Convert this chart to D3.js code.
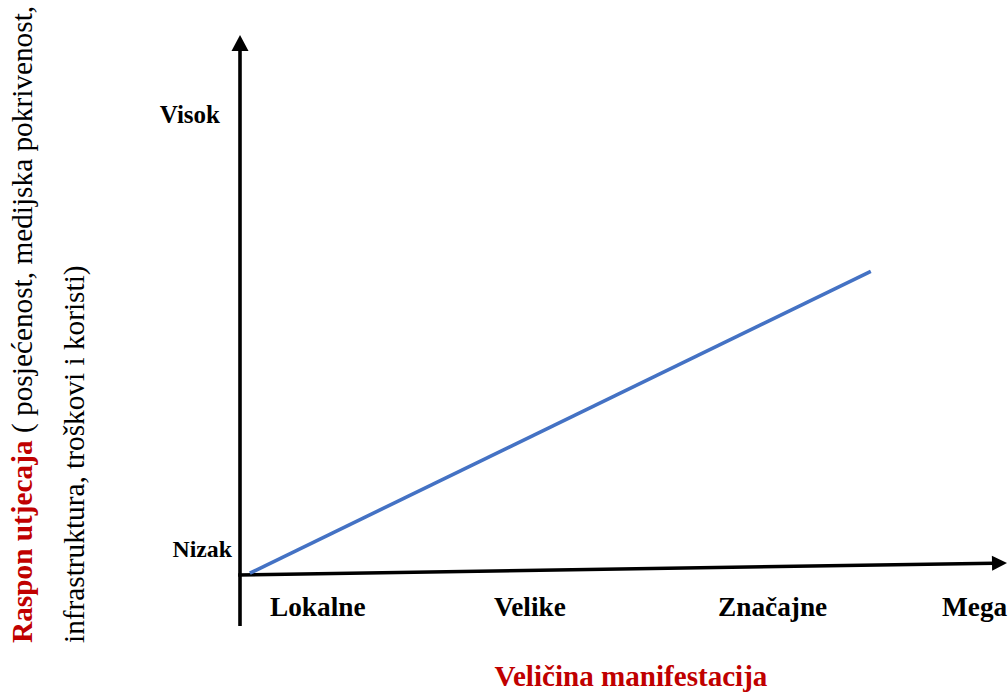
<!DOCTYPE html>
<html>
<head>
<meta charset="utf-8">
<script src="https://cdn.jsdelivr.net/npm/d3@7"></script>
<style>
  html, body { margin: 0; padding: 0; background: #fff; }
  svg text { font-family: "Liberation Serif", "Times New Roman", serif; }
</style>
</head>
<body>
<svg id="chart" width="1008" height="693"></svg>
<script>
// ---- data ----
const sizeCategories = ["Lokalne", "Velike", "Značajne", "Mega"];
const impactLevels = ["Nizak", "Visok"];
const lineSize = [1.3, 83];      // position along the size axis (0–100)
const lineImpact = [0.4, 66];    // impact range (0–100)
const xTitle = "Veličina manifestacija";
const yTitleRed = "Raspon utjecaja";
const yTitleRest1 = " ( posjećenost, medijska pokrivenost,";
const yTitleLine2 = "infrastruktura, troškovi i koristi)";

// ---- layout ----
const svg = d3.select("#chart");
const x0 = 240, y0 = 575;
const xLin = d3.scaleLinear().domain([0, 100]).range([x0, 1000]);
const yLin = d3.scaleLinear().domain([0, 100]).range([y0, 115]);
const xCat = d3.scalePoint().domain(sizeCategories).range([270, 942]);
const yCat = d3.scalePoint().domain(impactLevels).range([557, 123]);
const yLabelEnd = d3.scaleOrdinal().domain(impactLevels).range([232, 220]);

const red = "#C00000";

// vertical axis with arrow
const vTop = 35, vBottom = 626;
svg.append("line")
  .attr("x1", x0).attr("x2", x0)
  .attr("y1", vBottom).attr("y2", vTop + 12)
  .attr("stroke", "#000").attr("stroke-width", 3.6);
svg.append("path")
  .attr("d", `M${x0},${vTop} L${x0 - 8.5},${vTop + 16} L${x0 + 8.5},${vTop + 16} Z`)
  .attr("fill", "#000");

// horizontal axis (slightly rising) with arrow
const hEndX = 1007, hEndY = 563;
const ang = Math.atan2(hEndY - y0, hEndX - x0);
const bx = hEndX - 15 * Math.cos(ang), by = hEndY - 15 * Math.sin(ang);
const px = -Math.sin(ang) * 7.5, py = Math.cos(ang) * 7.5;
svg.append("line")
  .attr("x1", x0 - 1.8).attr("y1", y0)
  .attr("x2", bx + 2 * Math.cos(ang)).attr("y2", by + 2 * Math.sin(ang))
  .attr("stroke", "#000").attr("stroke-width", 3.6);
svg.append("path")
  .attr("d", `M${hEndX},${hEndY} L${bx + px},${by + py} L${bx - px},${by - py} Z`)
  .attr("fill", "#000");

// blue line
const pts = lineSize.map((s, i) => [xLin(s), yLin(lineImpact[i])]);
svg.append("path")
  .attr("d", d3.line()(pts))
  .attr("fill", "none")
  .attr("stroke", "#4472C4")
  .attr("stroke-width", 3.6);

// x category labels
svg.selectAll("text.xcat").data(sizeCategories).join("text")
  .attr("class", "xcat")
  .attr("x", d => xCat(d)).attr("y", 616)
  .attr("font-size", 27.3).attr("font-weight", "bold")
  .attr("fill", "#000")
  .text(d => d);

// y level labels
svg.selectAll("text.ycat").data(impactLevels).join("text")
  .attr("class", "ycat")
  .attr("x", d => yLabelEnd(d)).attr("y", d => yCat(d))
  .attr("text-anchor", "end")
  .attr("font-size", d => d === "Visok" ? 25 : 23.8).attr("font-weight", "bold")
  .attr("fill", "#000")
  .text(d => d);

// x title
svg.append("text")
  .attr("x", 631).attr("y", 686)
  .attr("text-anchor", "middle")
  .attr("font-size", 29.1).attr("font-weight", "bold")
  .attr("fill", red)
  .text(xTitle);

// y title (rotated, two lines)
const yt1 = svg.append("text")
  .attr("transform", "translate(32,643) rotate(-90)")
  .attr("font-size", 29.3);
yt1.append("tspan").attr("font-weight", "bold").attr("fill", red).text(yTitleRed);
yt1.append("tspan").attr("fill", "#000").text(yTitleRest1);

svg.append("text")
  .attr("transform", "translate(84,643) rotate(-90)")
  .attr("font-size", 29.3)
  .attr("fill", "#000")
  .text(yTitleLine2);
</script>
</body>
</html>
